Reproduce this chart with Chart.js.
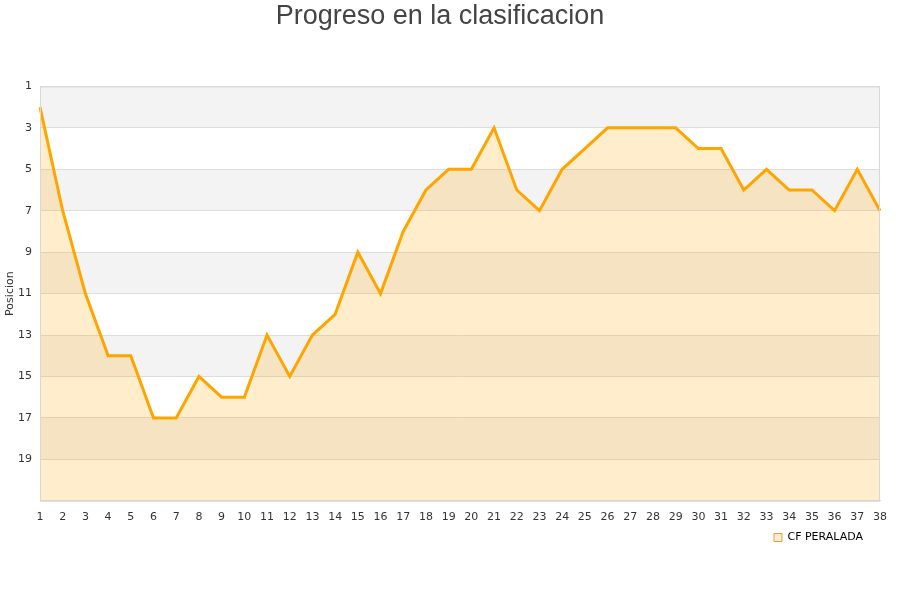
<!DOCTYPE html>
<html>
<head>
<meta charset="utf-8">
<script src="https://cdn.jsdelivr.net/npm/chart.js@4"></script>
<style>
  html, body { margin: 0; padding: 0; background: #fff; }
</style>
</head>
<body>
<canvas id="myChart" width="900" height="600"></canvas>
<script>
var jornadas = [];
for (var i = 1; i <= 38; i++) jornadas.push(String(i));
var posiciones = [2, 7, 11, 14, 14, 17, 17, 15, 16, 16, 13, 15, 13, 12, 9, 11, 8, 6, 5, 5,
                  3, 6, 7, 5, 4, 3, 3, 3, 3, 4, 4, 6, 5, 6, 6, 7, 5, 7];
var equipo = 'CF PERALADA';
var bandas = [[1, 3], [5, 7], [9, 11], [13, 15], [17, 19]];

var bandPlugin = {
  id: 'bands',
  afterLayout: function(chart) {
    // nudge the legend a bit left and down
    var lg = chart.legend;
    lg.left -= 12; lg.right -= 12;
    lg.top += 1; lg.bottom += 1;
  },
  beforeDraw: function(chart) {
    var ctx = chart.ctx, a = chart.chartArea, y = chart.scales.y;
    ctx.save();
    ctx.fillStyle = '#f3f3f3';
    bandas.forEach(function(b) {
      var y1 = y.getPixelForValue(b[0]), y2 = y.getPixelForValue(b[1]);
      ctx.fillRect(a.left, y1, a.right - a.left, y2 - y1);
    });
    ctx.restore();
  },
  afterDraw: function(chart) {
    var ctx = chart.ctx, a = chart.chartArea;
    ctx.save();
    ctx.strokeStyle = '#d8d8d8';
    ctx.lineWidth = 1;
    ctx.strokeRect(a.left + 0.5, a.top + 0.5, a.right - a.left - 1, a.bottom - a.top);
    ctx.restore();
  }
};

var ctx = document.getElementById('myChart');
var myChart = new Chart(ctx, {
  type: 'line',
  data: {
    labels: jornadas,
    datasets: [{
      label: equipo,
      data: posiciones,
      borderColor: '#ffa500',
      backgroundColor: 'rgba(255,165,0,0.2)',
      borderWidth: 3,
      pointRadius: 0,
      fill: { value: 21 },
      tension: 0
    }]
  },
  options: {
    responsive: false,
    animation: false,
    layout: { padding: { left: 0, right: 20, top: 0, bottom: 48 } },
    plugins: {
      title: {
        display: true,
        text: 'Progreso en la clasificacion',
        color: '#444',
        font: { family: 'Liberation Sans', size: 27, weight: 'normal' },
        padding: { top: 0, bottom: 54 }
      },
      legend: {
        position: 'bottom',
        align: 'end',
        labels: {
          boxWidth: 8,
          boxHeight: 8,
          color: '#000',
          font: { family: 'DejaVu Sans', size: 11 },
          padding: 5,
          generateLabels: function(chart) {
            var ds = chart.data.datasets[0];
            return [{
              text: ds.label,
              fillStyle: '#ffedcc',
              strokeStyle: '#e0a040',
              lineWidth: 1,
              fontColor: '#000',
              datasetIndex: 0
            }];
          }
        }
      },
      tooltip: { enabled: false }
    },
    scales: {
      x: {
        offset: false,
        grid: { display: false },
        border: { color: '#d8d8d8' },
        ticks: {
          color: '#333',
          font: { family: 'DejaVu Sans', size: 11 },
          maxRotation: 0,
          autoSkip: false,
          padding: 2
        }
      },
      y: {
        reverse: true,
        min: 1,
        max: 21,
        afterFit: function(scale) { scale.width = 40; },
        title: {
          display: true,
          text: 'Posicion',
          color: '#333',
          font: { family: 'DejaVu Sans', size: 11 },
          padding: { top: 4, bottom: 0 }
        },
        grid: { color: '#dddddd', drawTicks: false },
        border: { color: '#d8d8d8' },
        ticks: {
          stepSize: 2,
          color: '#333',
          padding: 8,
          font: { family: 'DejaVu Sans', size: 11 },
          callback: function(v) { return v === 21 ? '' : v; }
        }
      }
    }
  },
  plugins: [bandPlugin]
});
</script>
</body>
</html>
